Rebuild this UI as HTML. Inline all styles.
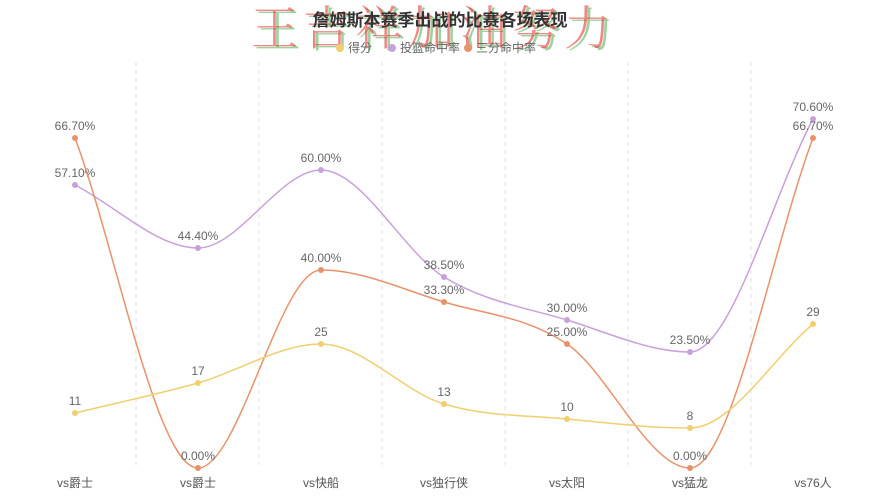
<!DOCTYPE html><html><head><meta charset="utf-8"><style>body{margin:0;background:#fff}svg{display:block}text{font-family:"Liberation Sans","Noto Sans CJK SC",sans-serif}</style></head><body>
<svg width="885" height="500" viewBox="0 0 885 500">
<g stroke="#e0e0e0" stroke-dasharray="4,4" stroke-width="1">
<line x1="136" y1="62" x2="136" y2="465"/><line x1="259" y1="62" x2="259" y2="465"/><line x1="382" y1="62" x2="382" y2="465"/><line x1="505" y1="62" x2="505" y2="465"/><line x1="628" y1="62" x2="628" y2="465"/><line x1="751" y1="62" x2="751" y2="465"/></g>
<g id="c"></g>
<text x="434" y="47" text-anchor="middle" font-size="47" fill="#4caf50" opacity="0.55" style="font-family:'Noto Serif CJK SC',serif;font-weight:300" textLength="360">王吉祥加油努力</text>
<text x="431" y="45" text-anchor="middle" font-size="47" fill="#e53935" opacity="0.6" style="font-family:'Noto Serif CJK SC',serif;font-weight:300" textLength="360">王吉祥加油努力</text>
<text x="440" y="26" text-anchor="middle" font-size="17" font-weight="bold" fill="#333">詹姆斯本赛季出战的比赛各场表现</text>
<g font-size="12" fill="#666"><circle cx="340" cy="48" r="4" fill="#f0cf70"/><text x="348" y="52">得分</text><circle cx="392" cy="48" r="4" fill="#c9a0dc"/><text x="400" y="52">投篮命中率</text><circle cx="468" cy="48" r="4" fill="#e9926a"/><text x="476" y="52">三分命中率</text></g>
<g font-size="12" fill="#555" text-anchor="middle"><text x="75" y="487">vs爵士</text><text x="198" y="487">vs爵士</text><text x="321" y="487">vs快船</text><text x="444" y="487">vs独行侠</text><text x="567" y="487">vs太阳</text><text x="690" y="487">vs猛龙</text><text x="813" y="487">vs76人</text></g>
</svg>
<script>
const xs=[75,198,321,444,567,690,813];
const S=[
{c:"#c9a0dc",y:[185,248,170,277,320,352,119],l:["57.10%","44.40%","60.00%","38.50%","30.00%","23.50%","70.60%"]},
{c:"#e9926a",y:[138,468,270,302,344,468,138],l:["66.70%","0.00%","40.00%","33.30%","25.00%","0.00%","66.70%"]},
{c:"#f0cf70",y:[413,383,344,404,419,428,324],l:["11","17","25","13","10","8","29"]}];
let h="";
for(const s of S){const y=s.y,n=y.length,dx=123;const d=[],m=[];
for(let i=0;i<n-1;i++)d.push((y[i+1]-y[i])/dx);
m[0]=d[0];m[n-1]=d[n-2];
for(let i=1;i<n-1;i++)m[i]=(d[i-1]*d[i]<=0)?0:(d[i-1]+d[i])/2;
for(let i=0;i<n-1;i++){if(d[i]==0){m[i]=m[i+1]=0;continue;}const a=m[i]/d[i],b=m[i+1]/d[i],t=a*a+b*b;if(t>9){const k=3/Math.sqrt(t);m[i]=k*a*d[i];m[i+1]=k*b*d[i];}}
let p="M"+xs[0]+","+y[0];
for(let i=0;i<n-1;i++){p+=` C${xs[i]+dx/3},${y[i]+m[i]*dx/3} ${xs[i+1]-dx/3},${y[i+1]-m[i+1]*dx/3} ${xs[i+1]},${y[i+1]}`;}
h+=`<path d="${p}" fill="none" stroke="${s.c}" stroke-width="1.5"/>`;
xs.forEach((x,i)=>{h+=`<circle cx="${x}" cy="${y[i]}" r="3" fill="${s.c}"/><text x="${x}" y="${y[i]-8}" text-anchor="middle" font-size="12" fill="#666">${s.l[i]}</text>`;});}
document.getElementById("c").innerHTML=h;
</script></body></html>
